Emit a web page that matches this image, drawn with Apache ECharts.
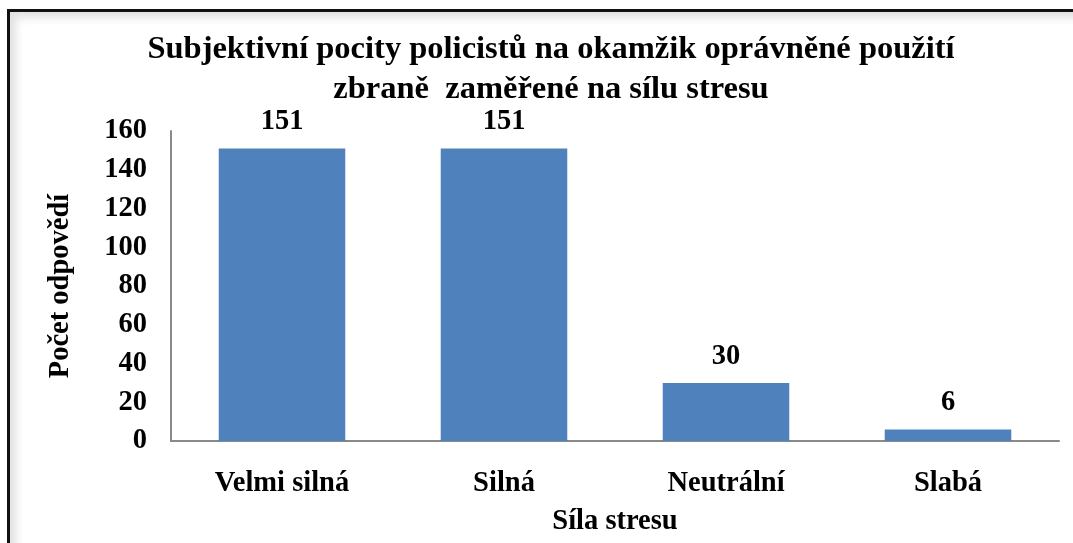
<!DOCTYPE html>
<html>
<head>
<meta charset="utf-8">
<script src="https://cdn.jsdelivr.net/npm/echarts@6/dist/echarts.min.js"></script>
<style>
  html, body { margin: 0; padding: 0; background: #fff; overflow: hidden; }
  #frame {
    position: absolute; left: 7px; top: 9px; width: 1100px; height: 600px;
    border: 3px solid #111; box-sizing: border-box;
    box-shadow: inset 6px 6px 8px rgba(0,0,0,0.12);
  }
  #chart { position: absolute; left: 0; top: 0; width: 1073px; height: 543px; }
</style>
</head>
<body>
<div id="frame"></div>
<div id="chart"></div>
<script>
const categories = ["Velmi silná", "Silná", "Neutrální", "Slabá"];
const counts = [151, 151, 30, 6];
const titleLines = [
  "Subjektivní pocity policistů na okamžik oprávněné použití",
  "zbraně  zaměřené na sílu stresu"
];

const font = "'Liberation Serif', 'Times New Roman', serif";
const labelSize = 28.5;
const chart = echarts.init(document.getElementById("chart"));

chart.setOption({
  backgroundColor: "transparent",
  animation: false,
  title: {
    text: titleLines.join("\n"),
    left: 546,
    textAlign: "center",
    top: 25,
    textStyle: { fontFamily: font, fontWeight: "bold", fontSize: 32.5, lineHeight: 40, color: "#000" }
  },
  grid: { left: 171, right: 14, top: 131, bottom: 102 },
  xAxis: {
    type: "category",
    data: categories,
    name: "Síla stresu",
    nameLocation: "middle",
    nameGap: 66,
    nameTextStyle: { fontFamily: font, fontWeight: "bold", fontSize: labelSize, color: "#000" },
    axisLine: { lineStyle: { color: "#898989", width: 2 } },
    axisTick: { show: false },
    axisLabel: { margin: 28, fontFamily: font, fontWeight: "bold", fontSize: labelSize, color: "#000" }
  },
  yAxis: {
    type: "value",
    min: 0, max: 160, interval: 20,
    name: "Počet odpovědí",
    nameLocation: "middle",
    nameGap: 96,
    nameRotate: 90,
    nameTextStyle: { fontFamily: font, fontWeight: "bold", fontSize: labelSize, color: "#000" },
    axisLine: { show: true, lineStyle: { color: "#898989", width: 2 } },
    axisTick: { show: false },
    splitLine: { show: false },
    axisLabel: { margin: 24, fontFamily: font, fontWeight: "bold", fontSize: labelSize, color: "#000" }
  },
  series: [{
    type: "bar",
    data: counts,
    barWidth: "57%",
    itemStyle: { color: "#4f81bd" },
    label: {
      show: true, position: "top", distance: 12,
      fontFamily: font, fontWeight: "bold", fontSize: labelSize, color: "#000"
    }
  }]
});
</script>
</body>
</html>
